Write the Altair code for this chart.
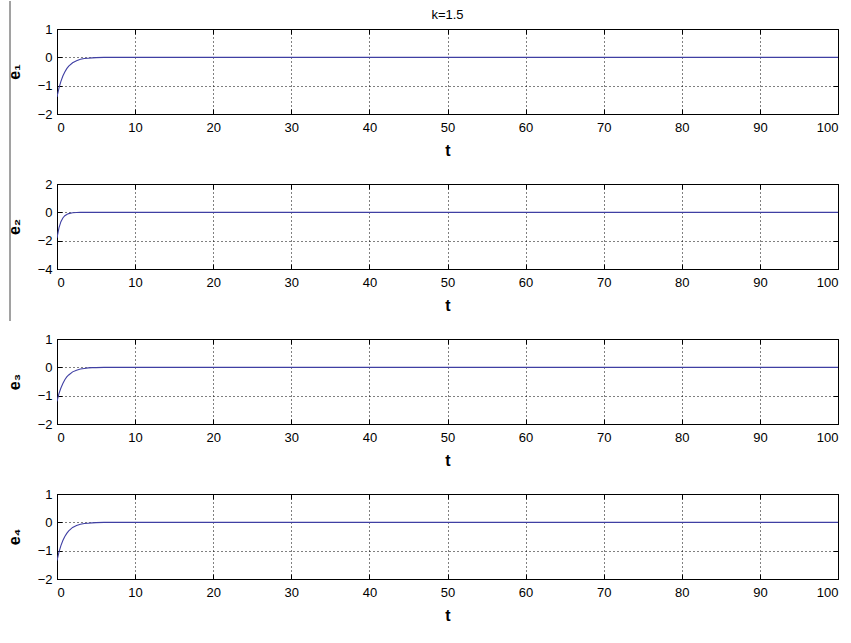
import altair as alt
import pandas as pd

# time samples (t) and error trajectories
t = [0, 0.25, 0.5, 0.75, 1, 1.25, 1.5, 2, 2.5, 3, 3.5, 4, 4.5, 5, 6, 100]
e1 = [-1.40, -1.09, -0.85, -0.66, -0.52, -0.40, -0.31, -0.19, -0.12, -0.07, -0.04, -0.03, -0.02, -0.01, 0.0, 0.0]
e2 = [-1.80, -1.09, -0.66, -0.40, -0.24, -0.15, -0.09, -0.03, -0.01, 0.0, 0.0, 0.0, 0.0, 0.0, 0.0, 0.0]
e3 = [-1.20, -0.93, -0.73, -0.57, -0.44, -0.34, -0.27, -0.16, -0.10, -0.06, -0.04, -0.02, -0.01, -0.01, 0.0, 0.0]
e4 = [-1.35, -1.05, -0.82, -0.64, -0.50, -0.39, -0.30, -0.18, -0.11, -0.07, -0.04, -0.03, -0.02, -0.01, 0.0, 0.0]

names = ["e\u2081", "e\u2082", "e\u2083", "e\u2084"]
series = [e1, e2, e3, e4]
domains = [[-2, 1], [-4, 2], [-2, 1], [-2, 1]]
yticks = [[-2, -1, 0, 1], [-4, -2, 0, 2], [-2, -1, 0, 1], [-2, -1, 0, 1]]
xticks = [0, 10, 20, 30, 40, 50, 60, 70, 80, 90, 100]
title_text = "k=1.5"

FONT = "Liberation Sans"
LINE = "#3f3fa3"
W, H = 781, 85


def panel(i):
    df = pd.DataFrame({"t": t, "e": series[i]})
    xs = alt.Scale(domain=[0, 100], nice=False)
    ys = alt.Scale(domain=domains[i], nice=False, zero=False)
    main = alt.Chart(df).mark_line(color=LINE, strokeWidth=1.1, clip=True).encode(
        x=alt.X("t:Q", scale=xs, axis=alt.Axis(
            values=xticks, title="t", orient="bottom", grid=True,
            offset=-5, ticks=True, tickSize=5, tickColor="black",
            labelPadding=7, titlePadding=8)),
        y=alt.Y("e:Q", scale=ys, axis=alt.Axis(
            values=yticks[i], title=names[i], orient="left", grid=True,
            offset=-5, ticks=True, tickSize=5, tickColor="black",
            labelPadding=5, titlePadding=15)),
    )
    ghost = alt.Chart(df).mark_line(strokeOpacity=0).encode(
        x=alt.X("t:Q", scale=xs, axis=alt.Axis(
            values=xticks, title=None, orient="top", grid=False, labels=False,
            domain=False, offset=-5, ticks=True, tickSize=5, tickColor="black")),
        y=alt.Y("e:Q", scale=ys, axis=alt.Axis(
            values=yticks[i], title=None, orient="right", grid=False, labels=False,
            domain=False, offset=-5, ticks=True, tickSize=5, tickColor="black")),
    )
    layers = [main, ghost]
    if i == 1:
        edge = alt.Chart(pd.DataFrame({"a": [0]})).mark_rule(
            color="#444444", strokeWidth=1).encode(
            x=alt.value(-47), y=alt.value(-183), y2=alt.value(137))
        layers.append(edge)
    ch = alt.layer(*layers).resolve_axis(x="independent", y="independent")
    props = dict(width=W, height=H)
    if i == 0:
        props["title"] = alt.TitleParams(
            title_text, font=FONT, fontSize=13, fontWeight="normal",
            color="black", offset=1, anchor="middle")
    return ch.properties(**props)


chart = alt.vconcat(*[panel(i) for i in range(4)], spacing=70, bounds="flush").properties(
    padding={"left": 5, "top": 0, "right": 2, "bottom": 2},
    background="white",
).configure_view(
    stroke="black", strokeWidth=1
).configure_axis(
    domain=False,
    gridColor="black", gridDash=[1, 3], gridOpacity=1, gridWidth=1,
    labelFont=FONT, labelFontSize=13, labelColor="black",
    titleFont=FONT, titleFontSize=16, titleFontWeight="bold", titleColor="black",
)

chart.save("out.html", embed_options={"renderer": "svg", "actions": False})
